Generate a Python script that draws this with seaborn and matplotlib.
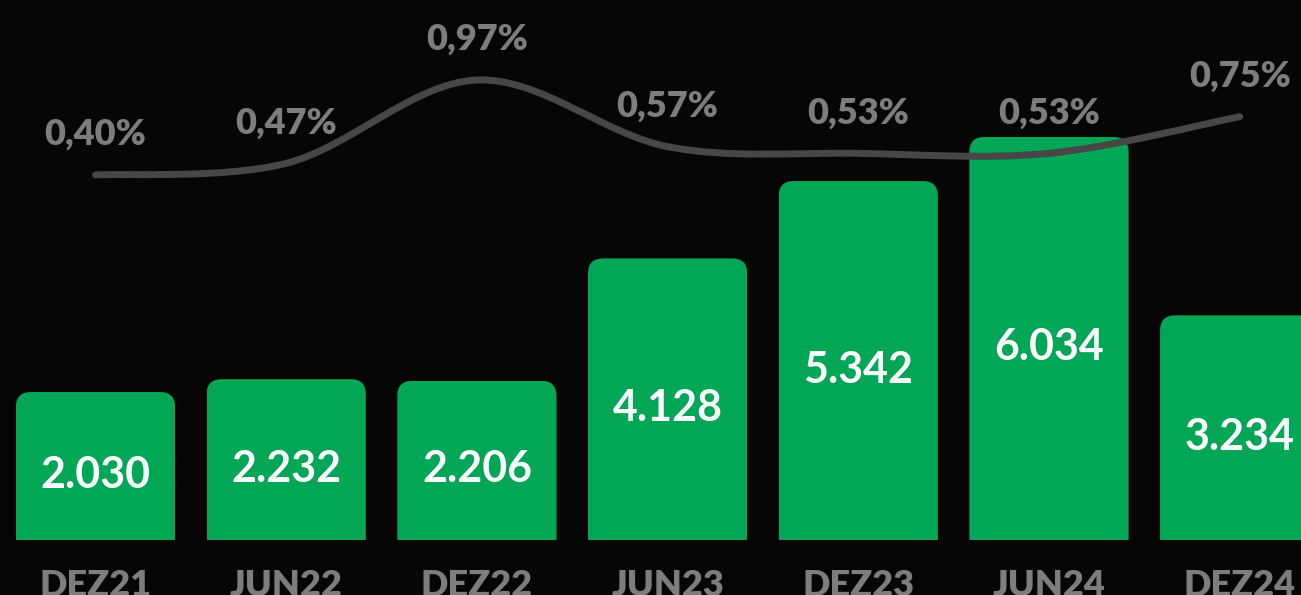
import pandas as pd
import matplotlib.pyplot as plt
import seaborn as sns
from matplotlib.patches import FancyBboxPatch, PathPatch, Rectangle
from matplotlib.path import Path

# data
periods = ["DEZ21", "JUN22", "DEZ22", "JUN23", "DEZ23", "JUN24", "DEZ24"]
volume = [2030, 2232, 2206, 4128, 5342, 6034, 3234]
rate = [0.40, 0.47, 0.97, 0.57, 0.53, 0.53, 0.75]

bg = "#060606"
green = "#02a755"
line_gray = "#474747"
label_gray = "#7d7d7d"

sns.set_theme(style="dark")
plt.rcParams['font.family'] = ['Lato', 'DejaVu Sans']

W, H = 1301, 595
fig = plt.figure(figsize=(W / 100, H / 100), dpi=100, facecolor=bg)
ax = fig.add_axes([0, 0, 1, 1])
ax.set_facecolor(bg)

df = pd.DataFrame({"period": periods, "volume": volume, "rate": rate})
sns.barplot(data=df, x="period", y="volume", color=green, saturation=1,
            width=0.835, ax=ax)

xlim = (-0.5008, 6.3215)
ylim = (-1156, 8184)
base = -293  # bars start below zero in the original
ax.set_xlim(xlim)
ax.set_ylim(ylim)

# swap plain bars for bars with rounded top corners
x_per_px = (xlim[1] - xlim[0]) / W
y_per_px = (ylim[1] - ylim[0]) / H
radius = 15 * x_per_px
for p in list(ax.patches):
    x0, w, h = p.get_x(), p.get_width(), p.get_height()
    p.remove()
    bar = FancyBboxPatch((x0, base - 2000), w, h - base + 2000,
                         boxstyle=f"round,pad=0,rounding_size={radius}",
                         mutation_aspect=y_per_px / x_per_px,
                         facecolor=green, edgecolor="none", zorder=2)
    ax.add_patch(bar)
    clip = Rectangle((x0, base), w, h - base, transform=ax.transData)
    bar.set_clip_path(clip)

for i, v in enumerate(volume):
    ax.text(i, (base + v) / 2 - 9 * y_per_px, f"{v:,}".replace(",", "."),
            ha="center", va="center", color="white", fontsize=31,
            fontweight="bold", zorder=3)

for i, lab in enumerate(periods):
    ax.text(i, -0.001, lab, transform=ax.get_xaxis_transform(), ha="center",
            va="baseline", color=label_gray, fontsize=26, fontweight="heavy",
            clip_on=False)

ax.axis("off")

# smoothed rate line on a second scale
ax2 = ax.twinx()
ax2.set_xlim(xlim)
ax2.set_ylim(-2.12, 1.45)
ax2.axis("off")

pts = list(zip(range(len(rate)), rate))
verts = [pts[0]]
codes = [Path.MOVETO]
for i in range(len(pts) - 1):
    p0 = pts[i - 1] if i > 0 else pts[i]
    p1, p2 = pts[i], pts[i + 1]
    p3 = pts[i + 2] if i + 2 < len(pts) else pts[i + 1]
    c1 = (p1[0] + (p2[0] - p0[0]) / 6, p1[1] + (p2[1] - p0[1]) / 6)
    c2 = (p2[0] - (p3[0] - p1[0]) / 6, p2[1] - (p3[1] - p1[1]) / 6)
    verts += [c1, c2, p2]
    codes += [Path.CURVE4] * 3
ax2.add_patch(PathPatch(Path(verts, codes), facecolor="none", edgecolor=line_gray,
                        lw=5, capstyle="round", joinstyle="round", zorder=4))

for i, r in enumerate(rate):
    ax2.annotate(f"{r:.2f}".replace(".", ",") + "%", (i, r), xytext=(0, 29),
                 textcoords="offset points", ha="center", va="center",
                 color=label_gray, fontsize=26, fontweight="heavy")

fig.savefig("out.png", dpi=100, facecolor=bg)
